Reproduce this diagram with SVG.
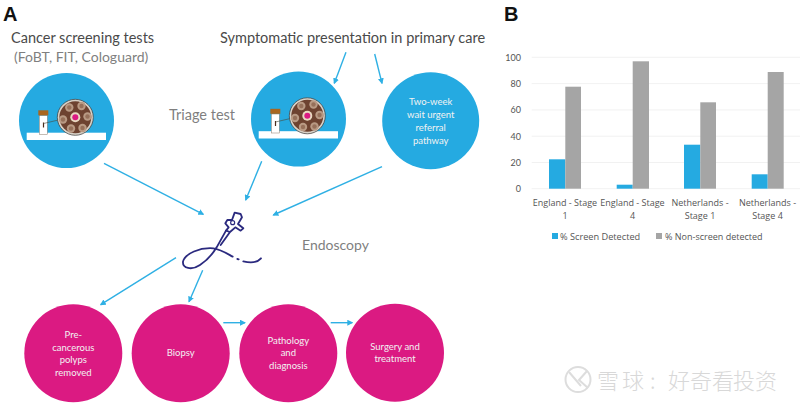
<svg xmlns="http://www.w3.org/2000/svg" xmlns:xlink="http://www.w3.org/1999/xlink" width="800" height="405" viewBox="0 0 800 405">
<style>
text{font-family:"Lato","Open Sans","Liberation Sans",sans-serif}
.h{font-size:14.5px;fill:#4a4a4a}
.g{font-size:14.5px;fill:#7f7f7f}
.big{font-family:"Liberation Sans",sans-serif;font-weight:700;font-size:20px;fill:#111}
.blue{fill:#25aae1}
.pink{fill:#db1a82}
.w{font-size:9.5px;fill:#f2f2f2;text-anchor:middle}
.conn{stroke:#2fb0e4;stroke-width:1.4;fill:none;marker-end:url(#arr)}
.grid{stroke:#eeeeee;stroke-width:.8}
.tick{font-family:"Open Sans","Liberation Sans",sans-serif;font-size:9px;fill:#555}
.cat{font-family:"Open Sans","Liberation Sans",sans-serif;font-size:9px;fill:#555;text-anchor:middle}
.b1{fill:#25aae1}.b2{fill:#a5a5a5}
.scope{stroke:#2b2a7f;stroke-width:5.5;fill:none;stroke-linecap:round;stroke-linejoin:round}
.wm{font-family:"Noto Sans CJK SC",sans-serif;font-size:22px;font-weight:300;fill:#d8d8d8}
</style>
<defs>
<marker id="arr" markerWidth="6" markerHeight="6" refX="5" refY="3" orient="auto" markerUnits="userSpaceOnUse"><path d="M0,0L6,3L0,6Z" fill="#2fb0e4"/></marker>
<g id="disc"><circle r="4.200" fill="#b99a84"/><circle r="2.200" fill="#96705a"/></g>
<g id="kit">
<rect x="-39.800" y="12.200" width="79.300" height="7.300" fill="#fff"/>
<rect x="-27.200" y="-5" width="8" height="19" fill="#fff" stroke="#8a7a6a" stroke-width=".5"/>
<rect x="-28.200" y="-10.200" width="10" height="5" fill="#a8661f"/>
<path d="M-23,2V7" stroke="#4a2a1a" stroke-width="1.200"/>
<path d="M-23,3L-6,-1" stroke="#4a4a3a" stroke-width=".6"/>
<circle cx="8.800" cy="-3.200" r="18" fill="#d8d2c8" stroke="#3a3a3a" stroke-width=".7"/>
<circle cx="8.800" cy="-3.200" r="16" fill="#6d4230"/>
<use xlink:href="#disc" href="#disc" x="2.800" y="-13"/><use xlink:href="#disc" href="#disc" x="15" y="-14.500"/><use xlink:href="#disc" href="#disc" x="21" y="-4"/><use xlink:href="#disc" href="#disc" x="16" y="7.500"/><use xlink:href="#disc" href="#disc" x="4.500" y="8"/><use xlink:href="#disc" href="#disc" x="-3.500" y="-1"/>
<circle cx="8.800" cy="-3.200" r="5" fill="#e8d8c0"/>
<circle cx="8.800" cy="-3.200" r="3" fill="#db1a82"/>
</g>
</defs>
<rect width="800" height="405" fill="#fff"/>
<text class="big" x="3" y="21">A</text>
<text class="big" x="504" y="21">B</text>

<g id="label-screening">
<text class="h" x="11" y="43">Cancer screening tests</text>
<text class="g" x="14" y="62" style="font-size:14px">(FoBT, FIT, Cologuard)</text>
</g>
<g id="label-symptomatic"><text class="h" x="220" y="43">Symptomatic presentation in primary care</text></g>
<g id="label-triage"><text class="g" x="169" y="120">Triage test</text></g>
<g id="label-endoscopy"><text class="g" x="302" y="250" style="font-size:14px">Endoscopy</text></g>

<g id="node-screening"><circle class="blue" cx="66.500" cy="120.500" r="47.500"/><use xlink:href="#kit" href="#kit" x="66.500" y="120.500"/></g>
<g id="node-triage"><circle class="blue" cx="298.500" cy="119" r="47.500"/><use xlink:href="#kit" href="#kit" x="298.500" y="119"/></g>
<g id="node-twoweek"><circle class="blue" cx="430.700" cy="120.700" r="48.500"/>
<text class="w" x="430.700" y="105">Two-week</text><text class="w" x="430.700" y="118">wait urgent</text><text class="w" x="430.700" y="131">referral</text><text class="w" x="430.700" y="144">pathway</text></g>

<g id="node-endoscope" transform="translate(150,190) scale(.3333)">
<path class="scope" d="M333,205C322,218 305,220 280,214M266,208L262,207M248,200C230,190 212,178 190,175C150,172 105,190 99,215C97,235 125,242 150,225C170,212 188,192 200,172L228,122"/>
<path class="scope" d="M212,165L240,126M228,122L236,112L226,100L232,90L246,90L254,68L272,72L276,82L264,102L280,115L272,122L256,112L240,126Z"/>
<circle class="scope" style="stroke-width:3.500" cx="248" cy="98" r="6"/>
</g>

<g id="node-polyps"><circle class="pink" cx="73.300" cy="353.300" r="49"/>
<text class="w" x="73.300" y="338">Pre-</text><text class="w" x="73.300" y="351">cancerous</text><text class="w" x="73.300" y="363">polyps</text><text class="w" x="73.300" y="376">removed</text></g>
<g id="node-biopsy"><circle class="pink" cx="180.700" cy="353.300" r="49"/><text class="w" x="180.700" y="356">Biopsy</text></g>
<g id="node-pathology"><circle class="pink" cx="288.300" cy="353.300" r="49"/>
<text class="w" x="288.300" y="344">Pathology</text><text class="w" x="288.300" y="356">and</text><text class="w" x="288.300" y="369">diagnosis</text></g>
<g id="node-surgery"><circle class="pink" cx="395" cy="352.700" r="49"/>
<text class="w" x="395" y="350">Surgery and</text><text class="w" x="395" y="362">treatment</text></g>

<g id="connectors">
<path class="conn" d="M104,163.300L203.300,214.300"/>
<path class="conn" d="M346,52.300L334.300,83.300"/>
<path class="conn" d="M374.700,54L382,83.300"/>
<path class="conn" d="M261.700,161.300L245.700,200"/>
<path class="conn" d="M382,166.700L273.300,215"/>
<path class="conn" d="M176,257.700L100.700,304.700"/>
<path class="conn" d="M202.700,270.300L189,301.700"/>
<path class="conn" d="M223.300,322.700H245"/>
<path class="conn" d="M330.700,322.700H352.300"/>
</g>

<g id="chart">
<path class="grid" d="M531.700,57.300H800M531.700,83.600H800M531.700,109.900H800M531.700,136.200H800M531.700,162.500H800M531.700,188.700H800"/>
<g class="tick" text-anchor="end">
<text x="521" y="60.500">100</text><text x="521" y="87">80</text><text x="521" y="113">60</text><text x="521" y="139.500">40</text><text x="521" y="166">20</text><text x="521" y="192">0</text>
</g>
<rect class="b1" x="549" y="159.300" width="16.300" height="29.400"/><rect class="b2" x="565.300" y="86.700" width="15.700" height="102"/>
<rect class="b1" x="616.700" y="184.700" width="16" height="4"/><rect class="b2" x="632.700" y="61.300" width="16.300" height="127.400"/>
<rect class="b1" x="684" y="144.700" width="16.300" height="44"/><rect class="b2" x="700.300" y="102.300" width="15.700" height="86.400"/>
<rect class="b1" x="751.700" y="174.300" width="16" height="14.400"/><rect class="b2" x="767.700" y="72" width="16" height="116.700"/>
<text class="cat" x="565" y="206">England - Stage</text><text class="cat" x="565" y="219">1</text>
<text class="cat" x="632.500" y="206">England - Stage</text><text class="cat" x="632.500" y="219">4</text>
<text class="cat" x="700" y="206">Netherlands -</text><text class="cat" x="700" y="219">Stage 1</text>
<text class="cat" x="767.500" y="206">Netherlands -</text><text class="cat" x="767.500" y="219">Stage 4</text>
<rect class="b1" x="552" y="233" width="6" height="6"/><text class="tick" x="560" y="239.500" style="font-size:9.200px">% Screen Detected</text>
<rect class="b2" x="656" y="233" width="6" height="6"/><text class="tick" x="665" y="239.500">% Non-screen detected</text>
</g>

<g id="watermark">
<circle cx="578" cy="379.500" r="12.500" fill="none" stroke="#dddddd" stroke-width="2"/>
<path d="M569,372L581,386M587,371L579,380L588,388" fill="none" stroke="#dddddd" stroke-width="2"/>
<text class="wm" x="597 622 650 668 690 712 733 755" y="389">雪球:好奇看投资</text>
</g>
</svg>
